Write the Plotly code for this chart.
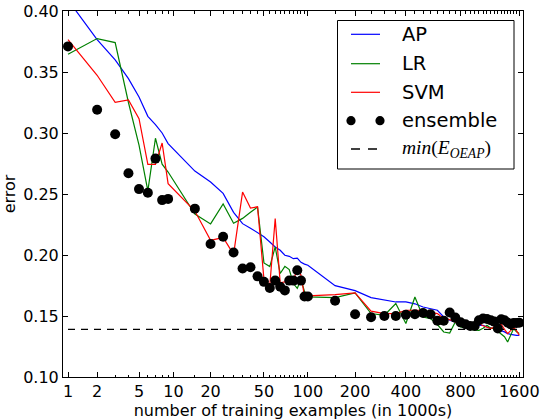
import plotly.graph_objects as go

# training set sizes (in 1000s)
sizes = [1, 2, 3, 4, 5, 6, 7, 8, 9,
         15, 20, 25, 30, 35, 40, 45, 50, 55, 60, 65, 70, 75, 80, 85, 90, 95, 100,
         150, 200, 250, 300, 350, 400, 450, 500, 550, 600, 650, 700, 750, 800,
         850, 900, 950, 1000, 1050, 1100, 1150, 1200, 1250, 1300, 1350, 1400,
         1450, 1500, 1550, 1600]

err_ap = [0.409, 0.3766, 0.360, 0.3446, 0.3295, 0.3137, 0.3069, 0.300, 0.2913,
          0.2688, 0.2598, 0.2505, 0.235, 0.2257, 0.222, 0.2185, 0.215, 0.2107,
          0.2066, 0.2039, 0.1998, 0.1989, 0.197, 0.1975, 0.194, 0.1925, 0.1916,
          0.1749, 0.1708, 0.1651, 0.163, 0.1615, 0.1615, 0.160, 0.1574, 0.156,
          0.1547, 0.1492, 0.1465, 0.145, 0.143,
          0.142, 0.1416, 0.142, 0.1424, 0.1424, 0.141, 0.140, 0.1397, 0.139,
          0.138, 0.137, 0.1356, 0.135, 0.1345, 0.1342, 0.1342]

err_lr = [0.3645, 0.3774, 0.3741, 0.325, 0.290, 0.2525, 0.2957, 0.2745, 0.268,
          0.2335, 0.2255, 0.2418, 0.226, 0.230, 0.235, 0.2393, 0.1935, 0.1905,
          0.2066, 0.1848, 0.1907, 0.188, 0.1766, 0.1727, 0.180, 0.170, 0.1656,
          0.165, 0.1689, 0.152, 0.1506, 0.1602, 0.1438, 0.1656, 0.1492, 0.1479,
          0.143, 0.1369, 0.136, 0.1451, 0.141,
          0.140, 0.139, 0.1385, 0.1383, 0.140, 0.1424, 0.140, 0.1397, 0.1375,
          0.1356, 0.133, 0.1287, 0.134, 0.1397, 0.137, 0.1356]

err_svm = [0.3766, 0.3473, 0.3252, 0.3271, 0.3118, 0.2743, 0.2743, 0.2918, 0.2585,
           0.236, 0.212, 0.2143, 0.2005, 0.2516, 0.2385, 0.2395, 0.180, 0.175,
           0.2298, 0.1772, 0.1779, 0.178, 0.178, 0.190, 0.1834, 0.166, 0.1665,
           0.1675, 0.1689, 0.154, 0.152, 0.152, 0.1547, 0.1547, 0.1547, 0.153,
           0.152, 0.1479, 0.147, 0.1451, 0.143,
           0.142, 0.1416, 0.143, 0.1438, 0.142, 0.141, 0.1397, 0.141, 0.142,
           0.1432, 0.139, 0.1356, 0.138, 0.1405, 0.138, 0.1342]

err_ensemble = [0.371, 0.319, 0.299, 0.267, 0.254, 0.251, 0.279, 0.245, 0.246,
                0.238, 0.209, 0.215, 0.202, 0.189, 0.190, 0.1825, 0.178, 0.173,
                0.179, 0.174, 0.171, 0.179, 0.179, 0.1875, 0.179, 0.166, 0.166,
                0.1625, 0.1515, 0.149, 0.150, 0.150, 0.151, 0.1515, 0.1525, 0.1515,
                0.1462, 0.1462, 0.1528, 0.1487, 0.1448,
                0.1432, 0.1418, 0.1418, 0.1465, 0.1479, 0.1475, 0.1465, 0.1454,
                0.1397, 0.1473, 0.1465, 0.1446, 0.1432, 0.1443, 0.1443, 0.1445]

min_oeap = 0.139

major_ticks = [1, 2, 5, 10, 20, 50, 100, 200, 400, 800, 1600]
minor_ticks = [3, 4, 6, 7, 8, 9, 15, 25, 30, 35, 40, 45, 55, 60, 65, 70, 75, 80,
               85, 90, 95, 150, 250, 300, 350, 450, 500, 550, 600, 650, 700, 750,
               850, 900, 950, 1000, 1050, 1100, 1150, 1200, 1250, 1300, 1350,
               1400, 1450, 1500, 1550]
y_ticks = [0.10, 0.15, 0.20, 0.25, 0.30, 0.35, 0.40]

legend_labels = ["AP", "LR", "SVM", "ensemble",
                 '<span style="font-family:\'Liberation Serif\'"><i>min</i>(<i>E</i>'
                 '<sub><i>OEAP</i></sub>)</span>']

# the x axis is drawn on a compressed power scale
POW = 0.105


def sx(v):
    return v ** POW


xs = [sx(v) for v in sizes]

COL_AP, COL_LR, COL_SVM = "#0000ff", "#008000", "#ff0000"
DASH = "7px,6px"

fig = go.Figure()
fig.add_trace(go.Scatter(x=xs, y=err_ap, mode="lines", name="AP",
                         line=dict(color=COL_AP, width=1.2)))
fig.add_trace(go.Scatter(x=xs, y=err_lr, mode="lines", name="LR",
                         line=dict(color=COL_LR, width=1.2)))
fig.add_trace(go.Scatter(x=xs, y=err_svm, mode="lines", name="SVM",
                         line=dict(color=COL_SVM, width=1.2)))
fig.add_trace(go.Scatter(x=xs, y=err_ensemble, mode="markers", name="ensemble",
                         marker=dict(color="black", size=10, line=dict(width=0))))
fig.add_trace(go.Scatter(x=[sx(sizes[0]), sx(sizes[-1])], y=[min_oeap, min_oeap],
                         mode="lines", name="min(E_OEAP)",
                         line=dict(color="black", width=1.3, dash=DASH)))

# ---- figure geometry (pixels) ----
W, H = 542, 420
ML, MR, MT, MB = 63, 19, 11, 43
PW, PH = W - ML - MR, H - MT - MB


def px(x):
    return (x - ML) / PW


def py(y):
    return (H - MB - y) / PH


# ---- legend box, drawn in the upper right corner of the axes ----
box = dict(x0=337.5, x1=514, y0=20.5, y1=169)
rows = [34.3, 63.7, 92.3, 120.7, 149.0]
sample = (351, 380)
text_x = 400

shapes = [dict(type="rect", xref="paper", yref="paper", layer="above",
               x0=px(box["x0"]), x1=px(box["x1"]), y0=py(box["y1"]), y1=py(box["y0"]),
               line=dict(color="black", width=1), fillcolor="white")]
for color, ry in zip([COL_AP, COL_LR, COL_SVM], rows[:3]):
    shapes.append(dict(type="line", xref="paper", yref="paper", layer="above",
                       x0=px(sample[0]), x1=px(sample[1]), y0=py(ry), y1=py(ry),
                       line=dict(color=color, width=1.2)))
for cx in sample:
    r = 4.6
    shapes.append(dict(type="circle", xref="paper", yref="paper", layer="above",
                       x0=px(cx - r), x1=px(cx + r), y0=py(rows[3] + r), y1=py(rows[3] - r),
                       fillcolor="black", line=dict(width=0)))
shapes.append(dict(type="line", xref="paper", yref="paper", layer="above",
                   x0=px(sample[0]), x1=px(sample[1] - 2), y0=py(rows[4]), y1=py(rows[4]),
                   line=dict(color="black", width=1.3, dash="9px,8px")))

annotations = [dict(text=lab, xref="paper", yref="paper", x=px(text_x), y=py(ry),
                    xanchor="left", yanchor="middle", showarrow=False,
                    font=dict(family="DejaVu Sans", size=19.5, color="black"))
               for lab, ry in zip(legend_labels, rows)]

axis_common = dict(showline=True, linecolor="black", linewidth=1, mirror="allticks",
                   ticks="inside", ticklen=5, tickwidth=1, tickcolor="black",
                   showgrid=False, zeroline=False, automargin=False,
                   tickfont=dict(family="DejaVu Sans", size=16, color="black"))

fig.update_layout(
    width=W, height=H,
    margin=dict(l=ML, r=MR, t=MT, b=MB),
    paper_bgcolor="white", plot_bgcolor="white",
    font=dict(family="DejaVu Sans", size=16, color="black"),
    showlegend=False,
    xaxis=dict(axis_common, range=[0.98703, 2.17951],
               tickmode="array", tickvals=[sx(v) for v in major_ticks],
               ticktext=[str(v) for v in major_ticks], ticklabelstandoff=0,
               minor=dict(tickmode="array", tickvals=[sx(v) for v in minor_ticks],
                          ticks="inside", ticklen=2.5, tickcolor="black", showgrid=False),
               title=dict(text="number of training examples (in 1000s)",
                          font=dict(size=16), standoff=6)),
    yaxis=dict(axis_common, range=[0.10, 0.40], tickmode="array",
               tickvals=y_ticks, ticktext=[f"{v:.2f}" for v in y_ticks],
               title=dict(text="error", font=dict(size=16), standoff=6)),
    shapes=shapes,
    annotations=annotations,
)

fig.write_html("out.html")
